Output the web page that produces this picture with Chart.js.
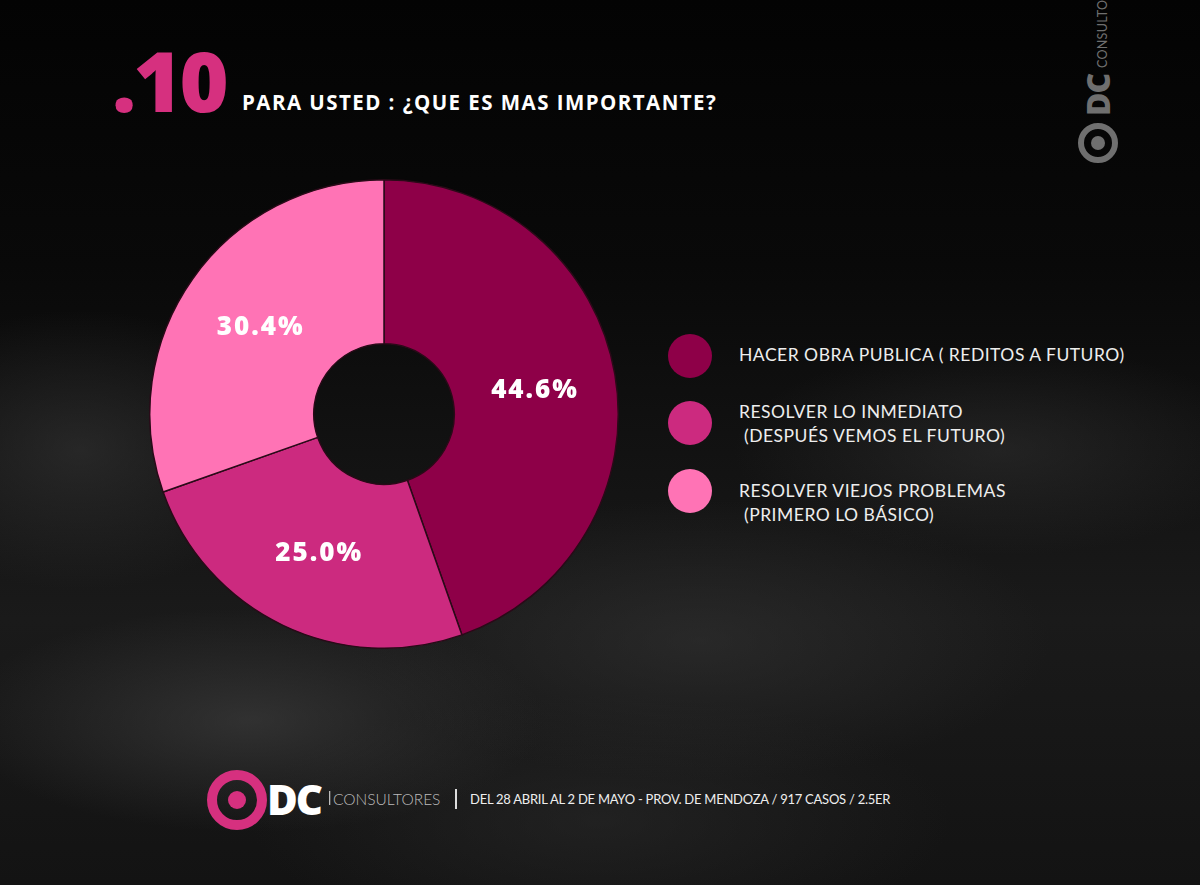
<!DOCTYPE html>
<html><head><meta charset="utf-8">
<script src="https://cdn.jsdelivr.net/npm/chart.js@4.4.1/dist/chart.umd.min.js"></script>
<style>
html,body{margin:0;padding:0;width:1200px;height:885px;overflow:hidden;}
body{position:relative;font-family:"Lato","Open Sans",sans-serif;
background:
 radial-gradient(ellipse 420px 160px at 250px 720px, rgba(70,70,70,0.55), rgba(0,0,0,0) 70%),
 radial-gradient(ellipse 500px 200px at 700px 640px, rgba(55,55,55,0.5), rgba(0,0,0,0) 70%),
 radial-gradient(ellipse 380px 150px at 1000px 450px, rgba(55,55,55,0.45), rgba(0,0,0,0) 70%),
 radial-gradient(ellipse 300px 200px at 80px 450px, rgba(60,60,60,0.5), rgba(0,0,0,0) 70%),
 radial-gradient(ellipse 500px 180px at 600px 820px, rgba(45,45,45,0.5), rgba(0,0,0,0) 70%),
 linear-gradient(#030303 0%, #090909 30%, #1a1a1a 70%, #131313 100%);}
.abs{position:absolute;white-space:nowrap;}
#num{left:112px;top:30px;font-family:"Open Sans",sans-serif;font-weight:800;font-size:84px;color:#d6307f;letter-spacing:-3px;line-height:100px;}
#ttl{left:242px;top:89px;font-family:"Open Sans",sans-serif;font-weight:700;font-size:20.5px;color:#fff;line-height:26px;letter-spacing:1.45px;}
#chartBox{left:149px;top:179px;width:470px;height:470px;}
.leg{position:absolute;left:668px;}
.dot{position:absolute;left:0;width:44px;height:44px;border-radius:50%;}
.lt{position:absolute;left:71px;font-size:17.5px;color:#eee;line-height:24px;white-space:pre;letter-spacing:0.5px;}
</style></head>
<body>
<div id="num" class="abs">.10</div>
<div id="ttl" class="abs">PARA USTED : ¿QUE ES MAS IMPORTANTE?</div>
<div id="chartBox" class="abs"><canvas id="c" width="470" height="470"></canvas></div>
<div id="legend"></div>

<!-- vertical logo top right -->
<svg class="abs" style="left:1060px;top:0" width="140" height="180">
 <circle cx="38" cy="143" r="17" fill="none" stroke="#6f6f6f" stroke-width="6"/>
 <circle cx="38" cy="143" r="7" fill="#6f6f6f"/>
 <text transform="translate(50,116) rotate(-90)" font-family="Open Sans" font-weight="800" font-size="32" fill="#6f6f6f" letter-spacing="-1">DC</text>
 <text transform="translate(47,68) rotate(-90)" font-family="Lato" font-size="12.5" fill="#6f6f6f" letter-spacing="0.3">CONSULTORES</text>
</svg>

<!-- footer -->
<svg class="abs" style="left:200px;top:765px" width="720" height="75">
 <circle cx="37" cy="35" r="25" fill="none" stroke="#d6307f" stroke-width="10"/>
 <circle cx="37" cy="35" r="9" fill="#d6307f"/>
 <text x="67" y="50" font-family="Open Sans" font-weight="800" font-size="42" fill="#fff" letter-spacing="-2">DC</text>
 <rect x="129" y="26" width="1.3" height="14" fill="#bbb"/>
 <text x="133" y="40" font-family="Lato" font-weight="300" font-size="15.5" fill="#bbb">CONSULTORES</text>
 <rect x="255" y="24" width="2" height="20" fill="#ddd"/>
 <text x="270" y="39" font-family="Lato" font-size="13" fill="#eee" letter-spacing="-0.25">DEL 28 ABRIL AL 2 DE MAYO - PROV. DE MENDOZA / 917 CASOS / 2.5ER</text>
</svg>

<script>
const categories = [
  "HACER OBRA PUBLICA ( REDITOS A FUTURO)",
  "RESOLVER LO INMEDIATO\n (DESPUÉS VEMOS EL FUTURO)",
  "RESOLVER VIEJOS PROBLEMAS\n (PRIMERO LO BÁSICO)"
];
const values = [44.6, 25.0, 30.4];
const valueLabels = ["44.6%", "25.0%", "30.4%"];
const colors = ["#8e0048", "#cc2a7f", "#ff73b5"];

// legend (HTML)
const legendTops = [334, 401, 469];
const legendTextTops = [343, 400, 479];
const lg = document.getElementById('legend');
categories.forEach((c,i)=>{
  const d = document.createElement('div');
  d.className='leg'; d.style.top = legendTops[i]+'px';
  d.innerHTML = '<div class="dot" style="background:'+colors[i]+'"></div>' +
    '<div class="lt" style="top:'+(legendTextTops[i]-legendTops[i])+'px">'+c+'</div>';
  lg.appendChild(d);
});

const labelPlugin = {
  id:'sliceLabels',
  afterDatasetsDraw(chart){
    const ctx = chart.ctx;
    const meta = chart.getDatasetMeta(0);
    ctx.save();
    ctx.font = '800 26px "Open Sans", sans-serif';
    ctx.letterSpacing = '2px';
    ctx.fillStyle = '#fff';
    ctx.textAlign = 'center';
    ctx.textBaseline = 'middle';
    meta.data.forEach((arc,i)=>{
      const p = arc.tooltipPosition();
      ctx.fillText(valueLabels[i], p.x + 1, p.y + 2);
    });
    ctx.restore();
  }
};

new Chart(document.getElementById('c'), {
  type:'doughnut',
  data:{ labels: categories, datasets:[{ data: values, backgroundColor: colors,
    borderColor:'#2a0a18', borderWidth:1.5, hoverOffset:0 }]},
  options:{ responsive:false, animation:false, cutout:'30%',
    layout:{padding:0},
    plugins:{ legend:{display:false}, tooltip:{enabled:false} } },
  plugins:[labelPlugin]
});
</script>
</body></html>
